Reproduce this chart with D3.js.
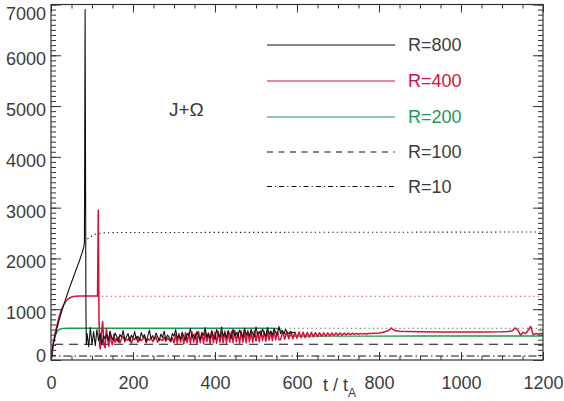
<!DOCTYPE html>
<html>
<head>
<meta charset="utf-8">
<script src="https://cdn.jsdelivr.net/npm/d3@7"></script>
<style>
  html, body { margin: 0; padding: 0; background: #fff; }
  svg { display: block; }
  text { font-family: "Liberation Sans", Arial, Helvetica, sans-serif; }
</style>
</head>
<body>
<svg id="chart" width="564" height="401"></svg>
<script>
// ---------- axis ticks ----------
const xTicks = [0, 200, 400, 600, 800, 1000, 1200];
const yTicks = [0, 1000, 2000, 3000, 4000, 5000, 6000, 7000];

// ---------- R = 800 (black) ----------
const r800RiseT = [0, 3, 6, 10, 15, 20, 25, 30, 35, 40, 45, 50, 55, 60, 65, 70, 75, 80, 81.5, 83.2, 85.2, 86.2];
const r800RiseV = [0, 180, 320, 470, 640, 790, 930, 1060, 1180, 1300, 1420, 1530, 1640, 1750, 1860, 1970, 2090, 2220, 2320, 6900, 1000, 300];
// post-crash fluctuations, sampled every 4 t_A from t = 88
const r800NoiseStart = 88, r800NoiseStep = 4;
const r800NoiseV = [
  520, 260, 640, 300, 560, 280, 600, 380, 520, 300, 480,
  420, 510, 380, 560, 440, 390, 530, 470, 350, 500, 450, 580, 400, 460, 520, 370, 490, 430, 560, 410,
  470, 380, 540, 450, 500, 360, 470, 590, 420, 480, 400, 530, 460, 380, 510, 440, 570, 400, 490, 450,
  380, 520, 470, 600, 430, 490, 410, 550, 460, 390, 520, 480, 620, 440, 500, 420, 560, 470, 400, 530,
  490, 640, 450, 520, 430, 570, 480, 410, 600, 500, 460, 650, 470, 530, 440, 580, 500, 430, 610, 480,
  540, 460, 590, 510, 450, 630, 490, 550, 470, 600, 520, 460, 650, 500, 560, 480, 610, 530, 470, 640,
  510, 570, 490, 620, 540, 500, 660, 520, 580, 510, 600, 550, 520, 560, 530, 545, 535
];
// steady-state reference (dotted)
const r800RefT = [81.5, 86, 90, 95, 100, 105, 110, 115, 120, 130, 140, 160, 1200];
const r800RefV = [2320, 2360, 2390, 2420, 2445, 2465, 2480, 2490, 2497, 2503, 2507, 2510, 2520];

// ---------- R = 400 (red) ----------
const r400RiseT = [0, 3, 6, 10, 15, 20, 25, 30, 35, 40, 45, 50, 55, 60, 70, 80, 90, 100, 110, 113.5, 115.3, 117, 118.5];
const r400RiseV = [0, 180, 340, 520, 700, 860, 980, 1070, 1140, 1190, 1220, 1240, 1250, 1255, 1258, 1260, 1260, 1260, 1260, 1262, 2950, 900, 300];
const r400RingStart = 120, r400RingStep = 3;
const r400RingV = [220, 520, 760, 300, 240, 620, 420, 270, 560, 360, 300, 500, 350, 420];
const r400NoiseStart = 160, r400NoiseStep = 4;
const r400NoiseV = [
  380, 450, 340, 420, 470, 360, 410, 390, 450, 330, 420, 400, 460, 350, 430, 380, 410, 470, 340, 420,
  390, 440, 360, 410, 460, 350, 420, 400, 380, 450, 370, 430, 400, 360, 440
];
const r400ZigStart = 300, r400ZigStep = 4;
const r400ZigV = [
  340, 500, 330, 520, 350, 510, 320, 540, 340, 530, 330, 550, 350, 520, 320, 560,
  340, 540, 330, 550, 360, 530, 320, 570, 340, 550, 330, 560, 350, 540, 340, 570,
  330, 550, 350, 560, 340, 580, 360, 550, 330, 570, 350, 560, 340, 580, 360, 560,
  350, 570, 370, 550, 360, 580, 380, 560, 370, 570, 390, 560, 380, 565, 400, 560, 400
];
const r400DampStart = 560, r400DampStep = 5;
const r400DampV = [
  400, 560, 410, 550, 420, 560, 420, 545, 430, 550, 440, 545, 440, 540, 450, 545,
  455, 540, 460, 538, 465, 535, 470, 535, 475, 532, 480, 530, 485, 530, 490, 528,
  495, 528, 500, 526, 505, 525, 508, 524, 510, 522, 512, 520
];
const r400TailT = [780, 800, 810, 820, 825, 830, 835, 840, 850, 870, 900, 950, 1000, 1050, 1100, 1115, 1125, 1132, 1138, 1145, 1152, 1158, 1165, 1170, 1176, 1182, 1188, 1194, 1200];
const r400TailV = [520, 530, 545, 570, 590, 630, 595, 575, 565, 560, 555, 552, 552, 552, 555, 560, 575, 630, 600, 490, 545, 520, 600, 660, 500, 520, 510, 525, 515];
const r400RefT = [113.5, 1200];
const r400RefV = [1255, 1255];

// ---------- R = 200 (green) ----------
const r200T = [0, 3, 6, 10, 15, 20, 25, 30, 40, 50, 200, 400, 540, 550, 558, 566, 574, 582, 590, 610, 700, 800, 900, 1000, 1100, 1200];
const r200V = [0, 200, 360, 480, 560, 600, 615, 622, 625, 625, 625, 625, 625, 620, 600, 550, 505, 480, 472, 470, 470, 471, 472, 472, 472, 472];
const r200RefT = [560, 1200];
const r200RefV = [625, 625];

// ---------- R = 100 (dashed) and R = 10 (dash-dot) ----------
const r100T = [0, 6, 12, 1200];
const r100V = [0, 250, 310, 310];
const r10T = [0, 3, 1200];
const r10V = [0, 80, 80];

// ---------- legend ----------
const legendLabels = ["R=800", "R=400", "R=200", "R=100", "R=10"];

// ---------- helpers ----------
const zip = (ts, vs) => ts.map((t, i) => [t, vs[i]]);
const sampled = (t0, dt, vs) => vs.map((v, i) => [t0 + i * dt, v]);

const ink = "#333333";
const textInk = "#3c3c3c";
const red = "#d4113b";
const green = "#1b9a55";
const black = "#111111";
const fontSize = "18px";

const svg = d3.select("#chart");
const x = d3.scaleLinear().domain([0, 1200]).range([51, 543]);
const y = d3.scaleLinear().domain([0, 7000]).range([360, 4.5]);
const line = d3.line().x(d => x(d[0])).y(d => y(d[1]));

const plot = svg.append("g");
plot.append("clipPath").attr("id", "clip")
  .append("rect").attr("x", x(0)).attr("y", y(7000)).attr("width", x(1200) - x(0)).attr("height", y(0) - y(7000));
const marks = plot.append("g").attr("clip-path", "url(#clip)");

function draw(points, color, dash, width) {
  marks.append("path")
    .datum(points)
    .attr("d", line)
    .attr("fill", "none")
    .attr("stroke", color)
    .attr("stroke-width", width || 1.1)
    .attr("stroke-linejoin", "round")
    .attr("stroke-dasharray", dash || null);
}

// reference levels (dotted)
draw(zip(r800RefT, r800RefV), black, "1.2,3.2", 1.1);
draw(zip(r400RefT, r400RefV), "#c0305a", "1.2,3.2", 1.1);
draw(zip(r200RefT, r200RefV), "#2c6f4a", "1.2,3.2", 1.1);

// R = 100 and R = 10
draw(zip(r100T, r100V), black, "9,6", 1.1);
draw(zip(r10T, r10V), black, "8,3,1.5,3", 1.1);

// R = 200
draw(zip(r200T, r200V), green, null, 1.4);

// R = 400
draw([].concat(
  zip(r400RiseT, r400RiseV),
  sampled(r400RingStart, r400RingStep, r400RingV),
  sampled(r400NoiseStart, r400NoiseStep, r400NoiseV),
  sampled(r400ZigStart, r400ZigStep, r400ZigV),
  sampled(r400DampStart, r400DampStep, r400DampV),
  zip(r400TailT, r400TailV)
), red, null, 1.5);

// R = 800
draw([].concat(
  zip(r800RiseT, r800RiseV),
  sampled(r800NoiseStart, r800NoiseStep, r800NoiseV)
), black, null, 1.1);

// ---------- axes (ticks point inward) ----------
const xMinor = d3.range(0, 1201, 50);
const yMinor = d3.range(0, 7001, 100);

function axis(gen, tr) {
  const g = svg.append("g").attr("transform", tr).call(gen);
  g.select(".domain").remove();
  g.selectAll(".tick line").attr("stroke", ink).attr("stroke-width", 1);
  return g;
}

axis(d3.axisBottom(x).tickValues(xMinor).tickSize(-4).tickFormat(""), `translate(0,${y(0)})`);
axis(d3.axisTop(x).tickValues(xMinor).tickSize(-4).tickFormat(""), `translate(0,${y(7000)})`);
axis(d3.axisTop(x).tickValues(xTicks).tickSize(-8).tickFormat(""), `translate(0,${y(7000)})`);
const gx = axis(d3.axisBottom(x).tickValues(xTicks).tickSize(-8).tickPadding(17).tickFormat(d3.format("d")), `translate(0,${y(0)})`);
gx.selectAll("text").attr("fill", textInk).attr("dy", "0.36em").attr("y", 23)
  .style("font-size", fontSize)
  .style("font-family", "'Liberation Sans', Arial, sans-serif");

axis(d3.axisLeft(y).tickValues(yMinor).tickSize(-5).tickFormat(""), `translate(${x(0)},0)`);
axis(d3.axisRight(y).tickValues(yMinor).tickSize(-5).tickFormat(""), `translate(${x(1200)},0)`);
axis(d3.axisRight(y).tickValues(yTicks).tickSize(-10).tickFormat(""), `translate(${x(1200)},0)`);
const gy = axis(d3.axisLeft(y).tickValues(yTicks).tickSize(-10).tickPadding(5).tickFormat(d3.format("d")), `translate(${x(0)},0)`);
// keep end labels inside the frame's vertical extent
gy.selectAll(".tick").each(function (d) {
  const c = Math.max(y(7000) + 8.5, Math.min(y(0) - 5, y(d) + 3));
  d3.select(this).select("text").attr("y", c - y(d)).attr("dy", "0.36em");
});
gy.selectAll("text").attr("fill", textInk).style("font-size", fontSize)
  .style("font-family", "'Liberation Sans', Arial, sans-serif");

// frame
svg.append("rect")
  .attr("x", x(0)).attr("y", y(7000))
  .attr("width", x(1200) - x(0)).attr("height", y(0) - y(7000))
  .attr("fill", "none").attr("stroke", ink).attr("stroke-width", 1.2);

// axis title t / t_A
const xt = svg.append("text").attr("x", 323).attr("y", 391)
  .attr("fill", textInk).style("font-size", fontSize);
xt.append("tspan").text("t / t");
xt.append("tspan").attr("dy", 6).style("font-size", "12px").text("A");

// panel annotation
svg.append("text").attr("x", 169).attr("y", 116)
  .attr("fill", textInk).style("font-size", "19px").text("J+Ω");

// ---------- legend ----------
const legendStyles = [
  { color: black, dash: null, text: textInk },
  { color: red, dash: null, text: red },
  { color: green, dash: null, text: green },
  { color: black, dash: "6,5.5", text: textInk },
  { color: black, dash: "5,3,1.2,3", text: textInk }
];
const legendY = [45, 81, 117, 152, 186.5];
const lg = svg.append("g");
legendLabels.forEach((lab, i) => {
  const s = legendStyles[i];
  lg.append("line")
    .attr("x1", 267).attr("x2", 395).attr("y1", legendY[i]).attr("y2", legendY[i])
    .attr("stroke", s.color).attr("stroke-width", 1.1)
    .attr("stroke-dasharray", s.dash);
  lg.append("text")
    .attr("x", 408).attr("y", legendY[i]).attr("dy", "0.36em")
    .attr("fill", s.text).style("font-size", fontSize).text(lab);
});
</script>
</body>
</html>
